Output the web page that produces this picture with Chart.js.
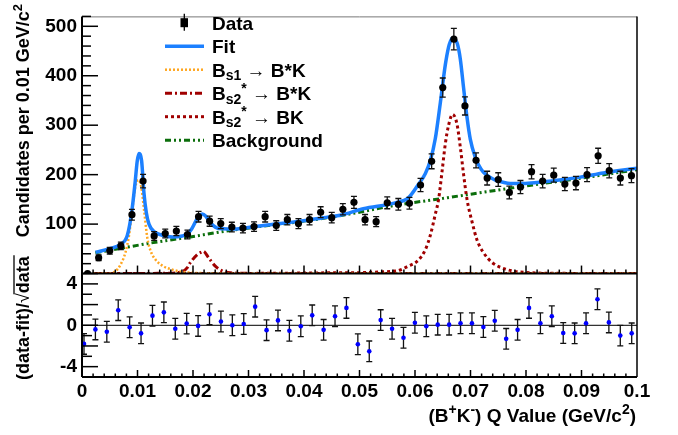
<!DOCTYPE html>
<html>
<head>
<meta charset="utf-8">
<title>B+K- Q value fit</title>
<script src="https://cdn.jsdelivr.net/npm/chart.js@4.4.0/dist/chart.umd.min.js"></script>
<style>
  html, body { margin: 0; padding: 0; background: #fff; }
  #qChart { display: block; }
</style>
</head>
<body>
<canvas id="qChart" width="678" height="435"></canvas>
<script>
const FONT = "'Liberation Sans', Arial, Helvetica, sans-serif";

// bin centres of the Q-value histogram (GeV/c^2)
const binCenters = [0.001, 0.003, 0.005, 0.007, 0.009, 0.011, 0.013, 0.015, 0.017, 0.019,
  0.021, 0.023, 0.025, 0.027, 0.029, 0.031, 0.033, 0.035, 0.037, 0.039,
  0.041, 0.043, 0.045, 0.047, 0.049, 0.051, 0.053, 0.055, 0.057, 0.059,
  0.061, 0.063, 0.065, 0.067, 0.069, 0.071, 0.073, 0.075, 0.077, 0.079,
  0.081, 0.083, 0.085, 0.087, 0.089, 0.091, 0.093, 0.095, 0.097, 0.099];
const counts = [0, 32, 46, 56, 119, 187, 76, 81, 86, 79,
  115, 106, 101, 94, 92, 95, 115, 97, 109, 101,
  109, 124, 113, 130, 144, 109, 105, 143, 140, 142,
  179, 227, 376, 474, 339, 229, 193, 190, 164, 175,
  206, 187, 199, 181, 183, 200, 238, 208, 193, 198];
const countErr = [0, 5.7, 6.8, 7.5, 10.9, 13.7, 8.7, 9, 9.3, 8.9,
  10.7, 10.3, 10, 9.7, 9.6, 9.7, 10.7, 9.8, 10.4, 10,
  10.4, 11.1, 10.6, 11.4, 12, 10.4, 10.2, 12, 11.8, 11.9,
  13.4, 15.1, 19.4, 21.8, 18.4, 15.1, 13.9, 13.8, 12.8, 13.2,
  14.4, 13.7, 14.1, 13.5, 13.5, 14.1, 15.4, 14.4, 13.9, 14.1];

// (data-fit)/sqrt(data), one per bin from 0.003 on
const residuals = [-1.80, -0.40, -0.62, 1.46, -0.19, -0.78, 0.93, 1.25, -0.34, 0.16,
  -0.06, 1.06, 0.37, 0.0, 0.12, 1.80, -0.47, 0.47, -0.53, -0.09,
  0.96, -0.44, 0.87, 1.68, -1.84, -2.52, 0.50, -0.34, -1.21, 0.25,
  -0.09, 0.06, 0.06, 0.19, 0.19, -0.16, 0.44, -1.31, -0.44, 1.68,
  0.19, 0.87, -0.75, -0.78, 0.19, 2.52, 0.28, -1.0, -0.78];
const resErr = 1;

// fit curves
const fitX = [0.00245, 0.00486, 0.00695, 0.00816, 0.00894, 0.00955, 0.00996, 0.01027, 0.01074, 0.01117,
  0.01159, 0.01207, 0.01297, 0.01447, 0.01627, 0.01807, 0.01897, 0.01969, 0.02041, 0.02105,
  0.02168, 0.02231, 0.02294, 0.02366, 0.02438, 0.02546, 0.02726, 0.02906, 0.03159, 0.03447,
  0.03753, 0.04059, 0.04348, 0.04654, 0.05068, 0.05645, 0.05879, 0.06059, 0.06185, 0.06275,
  0.06366, 0.06456, 0.06546, 0.06605, 0.06636, 0.06672, 0.06717, 0.06762, 0.06816, 0.06876,
  0.06937, 0.06996, 0.07086, 0.07140, 0.07231, 0.07321, 0.07447, 0.07573, 0.07717, 0.07951,
  0.08204, 0.08564, 0.08978, 0.09393, 0.09753, 0.1];
const fitY = [43, 50, 59, 77, 123, 182, 228, 243, 228, 162,
  123, 100, 85, 77.5, 74, 76, 80, 89, 104, 116,
  120.5, 116, 106, 97, 92, 90.5, 90, 91.8, 95.7, 99.6,
  103.5, 108, 113, 118, 131, 143, 153, 180, 202, 228,
  273, 345, 422, 458, 469, 476, 473, 465, 434, 375,
  316, 272, 235, 221, 205, 197, 189, 185, 182, 182,
  184, 188.5, 195, 203.5, 209.5, 213];

const bs1X = [0.00204, 0.0051, 0.00605, 0.00695, 0.00786, 0.00847, 0.00906, 0.0096, 0.01015, 0.01068,
  0.01117, 0.01177, 0.01236, 0.01326, 0.01447, 0.01627, 0.01807, 0.02132, 0.02852, 0.1];
const bs1Y = [0, 0.5, 5, 18, 44, 77, 130, 175, 189, 175,
  130, 72, 46, 28, 16, 8, 3.5, 1, 0.3, 0];

const bs2StarX = [0.002, 0.015, 0.01825, 0.01897, 0.01951, 0.02072, 0.02162, 0.02186, 0.02281, 0.02402,
  0.02523, 0.02672, 0.0321, 0.1];
const bs2StarY = [0, 0.5, 5, 12, 22, 38, 44, 45, 32, 15,
  5.5, 1.5, 0.3, 0];

const bs2BKX = [0.002, 0.03, 0.045, 0.05645, 0.05879, 0.06059, 0.06185, 0.06275, 0.06366, 0.06425,
  0.06486, 0.06546, 0.06605, 0.06678, 0.06757, 0.06816, 0.06876, 0.06937, 0.07027, 0.07117,
  0.07236, 0.07393, 0.07627, 0.07897, 0.0862, 0.1];
const bs2BKY = [0, 0.3, 1.5, 5, 15, 27, 48, 77, 120, 150,
  205, 262, 300, 322, 302, 256, 200, 150, 105, 68,
  42, 22, 9, 3, 0.5, 0];

const bkgX = [0.0024, 0.006, 0.0125, 0.0195, 0.0255, 0.032, 0.04, 0.048, 0.0565, 0.065, 0.078, 0.09, 0.1];
const bkgY = [42, 49, 62, 74, 85, 95, 106, 120, 138, 152, 174, 193, 210];

// axis ticks
const yTicks = [100, 200, 300, 400, 500];
const resTicks = [-4, -2, 0, 2, 4];
const xTicks = [0, 0.01, 0.02, 0.03, 0.04, 0.05, 0.06, 0.07, 0.08, 0.09, 0.1];
const xTickLabels = ["0", "0.01", "0.02", "0.03", "0.04", "0.05", "0.06", "0.07", "0.08", "0.09", "0.1"];

// legend text, split in plain / sub / sup pieces
const legendNames = [
  [["Data"]],
  [["Fit"]],
  [["B"], ["s1", "sub"], [" \u2192 B*K"]],
  [["B"], ["s2", "sub"], ["*", "sup"], [" \u2192 B*K"]],
  [["B"], ["s2", "sub"], ["*", "sup"], [" \u2192 BK"]],
  [["Background"]]
];

const pts = (xs, ys) => xs.map((x, i) => ({ x, y: ys[i] }));

function drawRich(ctx, parts, x, y, size, draw = true) {
  let cx = x;
  for (const [text, kind] of parts) {
    const s = kind ? Math.round(size * 0.72) : size;
    ctx.font = `bold ${s}px ${FONT}`;
    const dy = kind === "sub" ? size * 0.2 : kind === "sup" ? -size * 0.38 : 0;
    if (draw) ctx.fillText(text, cx, y + dy);
    cx += ctx.measureText(text).width;
  }
  return cx - x;
}

function drawErrors(ctx, xs, ys, xv, yv, err) {
  ctx.save();
  ctx.strokeStyle = "#111";
  ctx.lineWidth = 1.3;
  xv.forEach((v, i) => {
    const e = Array.isArray(err) ? err[i] : err;
    if (!e) return;
    const px = xs.getPixelForValue(v);
    const lo = ys.getPixelForValue(yv[i] - e);
    const hi = ys.getPixelForValue(yv[i] + e);
    ctx.beginPath();
    ctx.moveTo(px, lo); ctx.lineTo(px, hi);
    ctx.moveTo(px - 3, lo); ctx.lineTo(px + 3, lo);
    ctx.moveTo(px - 3, hi); ctx.lineTo(px + 3, hi);
    ctx.stroke();
  });
  ctx.restore();
}

function line(ctx, x1, y1, x2, y2) {
  ctx.beginPath(); ctx.moveTo(x1, y1); ctx.lineTo(x2, y2); ctx.stroke();
}

const rootFrame = {
  id: "rootFrame",
  beforeDatasetsDraw(chart) {
    const { ctx, chartArea } = chart;
    const yr = chart.scales.yr;
    ctx.save();
    ctx.strokeStyle = "#333";
    ctx.lineWidth = 1.3;
    const p0 = yr.getPixelForValue(0);
    line(ctx, chartArea.left, p0, chartArea.right, p0);
    ctx.restore();
  },
  beforeDatasetDraw(chart, args) {
    const { ctx, scales } = chart;
    if (args.index === 0) drawErrors(ctx, scales.x, scales.y, binCenters, counts, countErr);
    if (args.index === 1) drawErrors(ctx, scales.xr, scales.yr, binCenters.slice(1), residuals, resErr);
  },
  afterDatasetsDraw(chart) {
    const { ctx, chartArea } = chart;
    const { x, y, yr } = chart.scales;
    const L = chartArea.left, R = chartArea.right;
    ctx.save();
    ctx.strokeStyle = "#777";
    ctx.lineWidth = 1;
    line(ctx, L, y.top + 0.5, R, y.top + 0.5);
    ctx.strokeStyle = "#000";
    ctx.lineWidth = 1.5;
    line(ctx, R, y.top, R, yr.bottom);
    ctx.lineWidth = 2;
    line(ctx, L, y.top, L, yr.bottom);
    line(ctx, L, y.bottom, R, y.bottom);
    line(ctx, L, yr.bottom, R, yr.bottom);
    ctx.lineWidth = 1.5;
    for (let v = 0; v <= 520; v += 20) {
      const p = y.getPixelForValue(v);
      line(ctx, L, p, L + (v % 100 === 0 ? 16 : 9), p);
    }
    for (let v = -4; v <= 4; v++) {
      const p = yr.getPixelForValue(v);
      line(ctx, L, p, L + (v % 2 === 0 ? 16 : 10), p);
    }
    for (let i = 1; i < 50; i++) {
      const p = x.getPixelForValue(i * 0.002);
      const major = i % 5 === 0;
      line(ctx, p, y.bottom, p, y.bottom - (major ? 8 : 4));
      line(ctx, p, yr.bottom, p, yr.bottom - (major ? 7 : 3.5));
    }
    ctx.restore();
  },
  afterDraw(chart) {
    const { ctx } = chart;
    const { yr } = chart.scales;
    ctx.save();
    ctx.fillStyle = "#000";
    ctx.textBaseline = "alphabetic";
    ctx.textAlign = "left";

    // x title
    const xt = [["(B"], ["+", "sup"], ["K"], ["-", "sup"], [") Q Value (GeV/c"], ["2", "sup"], [")"]];
    const wx = drawRich(ctx, xt, 0, 0, 19, false);
    drawRich(ctx, xt, 636 - wx, 421.5, 19);

    // y title, top panel
    const yt = [["Candidates per 0.01 GeV/c"], ["2", "sup"]];
    const wy = drawRich(ctx, yt, 0, 0, 18, false);
    ctx.save();
    ctx.translate(29, 4);
    ctx.rotate(-Math.PI / 2);
    drawRich(ctx, yt, -wy, 0, 18);
    ctx.restore();

    // y title, residual panel
    ctx.save();
    ctx.translate(29, 380);
    ctx.rotate(-Math.PI / 2);
    ctx.font = `bold 18px ${FONT}`;
    const head = "(data-fit)/";
    ctx.fillText(head, 0, 0);
    let cx = ctx.measureText(head).width;
    ctx.font = `18px ${FONT}`;
    ctx.fillText("\u221A", cx, 0);
    const sq = ctx.measureText("\u221A").width;
    ctx.font = `bold 18px ${FONT}`;
    ctx.fillText("data", cx + sq, 0);
    const wd = ctx.measureText("data").width;
    ctx.lineWidth = 1.3;
    ctx.strokeStyle = "#000";
    line(ctx, cx + sq - 1, -15, cx + sq + wd + 1, -15);
    ctx.restore();

    // legend
    const rowY = [22.7, 46.2, 69.7, 93.2, 116.7, 140.2];
    const dsIndex = [0, 2, 3, 4, 5, 6];
    legendNames.forEach((parts, i) => {
      const cy = rowY[i];
      const ds = chart.data.datasets[dsIndex[i]];
      if (i === 0) {
        ctx.fillStyle = "#000";
        ctx.fillRect(180.5, cy - 4.5, 7.5, 9);
        ctx.strokeStyle = "#000";
        ctx.lineWidth = 1.3;
        line(ctx, 184.3, cy - 9, 184.3, cy + 8);
      } else {
        ctx.strokeStyle = ds.borderColor;
        ctx.lineWidth = ds.borderWidth;
        ctx.setLineDash(ds.borderDash || []);
        line(ctx, 165, cy, 204, cy);
        ctx.setLineDash([]);
      }
      ctx.fillStyle = "#000";
      drawRich(ctx, parts, 212, cy + 6.8, 19);
    });
    ctx.restore();
  }
};

const curve = (label, xs, ys, color, width, dash, order) => ({
  label,
  data: pts(xs, ys),
  xAxisID: "x",
  yAxisID: "y",
  showLine: true,
  pointRadius: 0,
  borderColor: color,
  borderWidth: width,
  borderDash: dash,
  cubicInterpolationMode: "monotone",
  fill: false,
  order
});

const tickFont = { family: FONT, size: 19, weight: "bold" };

new Chart(document.getElementById("qChart").getContext("2d"), {
  type: "scatter",
  data: {
    datasets: [
      {
        label: "Data",
        data: pts(binCenters, counts),
        xAxisID: "x",
        yAxisID: "y",
        pointRadius: 3.6,
        pointBackgroundColor: "#000",
        pointBorderWidth: 0,
        order: 0
      },
      {
        label: "(data-fit)/sqrt(data)",
        data: pts(binCenters.slice(1), residuals),
        xAxisID: "xr",
        yAxisID: "yr",
        pointRadius: 2.3,
        pointBackgroundColor: "#0000ff",
        pointBorderWidth: 0,
        order: 0
      },
      curve("Fit", fitX, fitY, "#1c80ff", 3.5, [], 1),
      curve("Bs1 -> B*K", bs1X, bs1Y, "#ffa620", 2.5, [2, 2], 2),
      curve("Bs2* -> B*K", bs2StarX, bs2StarY, "#a00000", 3, [7, 3, 2, 3], 3),
      curve("Bs2* -> BK", bs2BKX, bs2BKY, "#a00000", 3, [3, 3], 4),
      curve("Background", bkgX, bkgY, "#0b6e0b", 3, [6, 3, 2, 3, 2, 3], 5)
    ]
  },
  options: {
    responsive: false,
    animation: false,
    events: [],
    layout: { padding: { top: 4, right: 41, left: 0, bottom: 0 } },
    plugins: { legend: { display: false }, tooltip: { enabled: false } },
    scales: {
      x: {
        type: "linear",
        position: "bottom",
        min: 0,
        max: 0.1,
        grid: { display: false, drawTicks: false },
        border: { display: false },
        afterBuildTicks: (s) => { s.ticks = xTicks.map((v) => ({ value: v })); },
        afterFit: (s) => { s.height = 58; },
        ticks: {
          autoSkip: false,
          maxRotation: 0,
          minRotation: 0,
          padding: 3,
          color: "#000",
          font: tickFont,
          callback: (v, i) => xTickLabels[i]
        }
      },
      xr: { type: "linear", display: false, min: 0.00265, max: 0.09993 },
      y: {
        type: "linear",
        position: "left",
        stack: "panels",
        stackWeight: 266,
        weight: 1,
        min: 0,
        max: 520,
        grid: { display: false, drawTicks: false },
        border: { display: false },
        afterBuildTicks: (s) => { s.ticks = yTicks.map((v) => ({ value: v })); },
        afterFit: (s) => { s.width = 82; },
        ticks: { padding: 5, color: "#000", font: tickFont }
      },
      yr: {
        type: "linear",
        position: "left",
        stack: "panels",
        stackWeight: 107,
        weight: 0,
        min: -5,
        max: 5,
        grid: { display: false, drawTicks: false },
        border: { display: false },
        afterBuildTicks: (s) => { s.ticks = resTicks.map((v) => ({ value: v })); },
        afterFit: (s) => { s.width = 82; },
        ticks: { padding: 5, color: "#000", font: tickFont }
      }
    }
  },
  plugins: [rootFrame]
});
</script>
</body>
</html>
